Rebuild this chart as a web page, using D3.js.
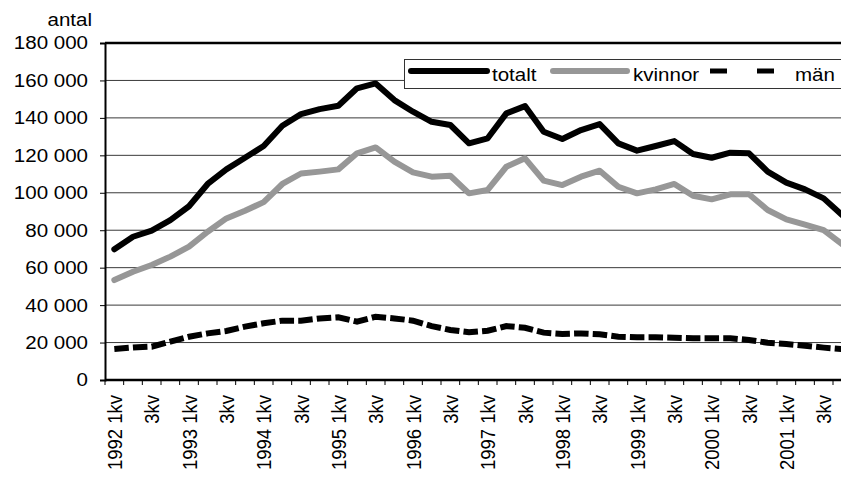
<!DOCTYPE html>
<html>
<head>
<meta charset="utf-8">
<script src="https://cdn.jsdelivr.net/npm/d3@7"></script>
<style>
  html, body { margin: 0; padding: 0; background: #fff; }
  svg { display: block; font-family: "Liberation Sans", Arial, sans-serif; }
</style>
</head>
<body>
<svg id="chart" width="841" height="481"></svg>
<script>
// Quarterly counts 1992–2001
const years = [1992, 1993, 1994, 1995, 1996, 1997, 1998, 1999, 2000, 2001];
const quarters = years.flatMap(yr => [1, 2, 3, 4].map(q => `${yr} ${q}kv`));

const totalt = [69800, 76500, 79800, 85400, 92800, 104700, 112500, 118700, 125000, 135800,
                142000, 144700, 146500, 155800, 158400, 149500, 143300, 137900, 136200, 126400,
                129100, 142400, 146300, 132600, 128700, 133500, 136700, 126400, 122500, 125000,
                127600, 120700, 118700, 121400, 121100, 111300, 105400, 101800, 97000, 88000];
const kvinnor = [53400, 57800, 61400, 65900, 71200, 79200, 86300, 90400, 95000, 104700,
                 110300, 111300, 112500, 121100, 124200, 116600, 110900, 108600, 109100, 99700,
                 101500, 113900, 118400, 106500, 104100, 108600, 111800, 103200, 99700, 101800,
                 104700, 98400, 96500, 99200, 99200, 90800, 85800, 83000, 80000, 72500];
const man = [16600, 17400, 17800, 20500, 23100, 24900, 26200, 28500, 30300, 31700,
             31700, 32900, 33500, 31200, 33800, 32900, 31700, 28800, 26700, 25500,
             26300, 28800, 27900, 25300, 24600, 24900, 24400, 23100, 22800, 22800,
             22600, 22300, 22300, 22300, 21400, 19900, 19200, 18300, 17300, 16500];

const yTicks = [0, 20000, 40000, 60000, 80000, 100000, 120000, 140000, 160000, 180000];
const seriesNames = ["totalt", "kvinnor", "män"];

// Axis-label format: space as thousands separator
const fmt = d3.formatLocale({ decimal: ",", thousands: " ", grouping: [3], currency: ["", " kr"] }).format(",d");
const tickLabel = q => q.endsWith(" 1kv") ? q : q.slice(5);

// Type is set slightly wide
const fontSize = 18.5, widen = 1.11;

const svg = d3.select("#chart");
const plotLeft = 105, plotTop = 43, plotH = 337, step = 18.667;
const plotW = step * quarters.length;

const x = d3.scaleBand().domain(quarters).range([plotLeft, plotLeft + plotW]);
const y = d3.scaleLinear().domain([0, 180000]).range([plotTop + plotH, plotTop]);
const cx = q => x(q) + x.bandwidth() / 2;

// Horizontal gridlines
svg.append("g").selectAll("line").data(yTicks.filter(v => v > 0 && v < 180000)).join("line")
  .attr("x1", plotLeft).attr("x2", plotLeft + plotW)
  .attr("y1", d => y(d)).attr("y2", d => y(d))
  .attr("stroke", "#3a3a3a").attr("stroke-width", 1);

// Top border of the plot area
svg.append("line").attr("x1", plotLeft).attr("x2", plotLeft + plotW)
  .attr("y1", plotTop).attr("y2", plotTop).attr("stroke", "#000").attr("stroke-width", 2.5);

// Y axis
const yAxis = svg.append("g").attr("transform", `translate(${plotLeft},0)`)
  .call(d3.axisLeft(y).tickValues(yTicks).tickFormat(fmt).tickSize(5).tickPadding(12));
yAxis.select(".domain").attr("stroke", "#000").attr("stroke-width", 2);
yAxis.selectAll(".tick line").attr("stroke", "#000").attr("stroke-width", 1);
yAxis.selectAll("text").attr("font-size", fontSize).attr("fill", "#000")
  .attr("font-family", "'Liberation Sans', Arial, sans-serif")
  .attr("x", 0).attr("transform", `translate(-17,0) scale(${widen},1)`);

svg.append("text").attr("text-anchor", "end").attr("font-size", fontSize)
  .attr("transform", `translate(92,26) scale(${widen},1)`).text("antal");

// X axis: tick at every category boundary, labels every second quarter
const xAxisG = svg.append("g").attr("transform", `translate(0,${plotTop + plotH})`);
xAxisG.append("line").attr("x1", plotLeft).attr("x2", plotLeft + plotW)
  .attr("stroke", "#000").attr("stroke-width", 2.5);
xAxisG.selectAll("line.tk").data(d3.range(quarters.length + 1)).join("line").attr("class", "tk")
  .attr("x1", i => plotLeft + i * x.step()).attr("x2", i => plotLeft + i * x.step())
  .attr("y1", 0).attr("y2", 5).attr("stroke", "#000").attr("stroke-width", 1);
xAxisG.selectAll("text").data(quarters.filter((q, i) => i % 2 === 0)).join("text")
  .attr("transform", q => `translate(${cx(q) + 7.5},15) scale(${widen},1) rotate(-90)`)
  .attr("text-anchor", "end").attr("font-size", fontSize).text(tickLabel);

// Series lines
const line = vals => d3.line().x((d, i) => cx(quarters[i])).y(d => y(d))(vals);
svg.append("path").attr("d", line(man)).attr("fill", "none")
  .attr("stroke", "#000").attr("stroke-width", 6).attr("stroke-dasharray", "14.5,4.17");
svg.append("path").attr("d", line(kvinnor)).attr("fill", "none")
  .attr("stroke", "#979797").attr("stroke-width", 6)
  .attr("stroke-linejoin", "round").attr("stroke-linecap", "round");
svg.append("path").attr("d", line(totalt)).attr("fill", "none")
  .attr("stroke", "#000").attr("stroke-width", 6)
  .attr("stroke-linejoin", "round").attr("stroke-linecap", "round");

// Legend
const lg = svg.append("g");
lg.append("rect").attr("x", 404.5).attr("y", 59.5).attr("width", 460).attr("height", 29)
  .attr("fill", "#fff").attr("stroke", "#333").attr("stroke-width", 1);
const ly = 71, lt = 81;
const legendText = (xPos, s) => lg.append("text").attr("font-size", fontSize)
  .attr("transform", `translate(${xPos},${lt}) scale(${widen},1)`).text(s);
lg.append("line").attr("x1", 411).attr("x2", 487).attr("y1", ly).attr("y2", ly)
  .attr("stroke", "#000").attr("stroke-width", 6).attr("stroke-linecap", "round");
legendText(492, seriesNames[0]);
lg.append("line").attr("x1", 553).attr("x2", 627).attr("y1", ly).attr("y2", ly)
  .attr("stroke", "#979797").attr("stroke-width", 6).attr("stroke-linecap", "round");
legendText(633, seriesNames[1]);
lg.append("line").attr("x1", 710).attr("x2", 774).attr("y1", ly).attr("y2", ly)
  .attr("stroke", "#000").attr("stroke-width", 5).attr("stroke-dasharray", "17,30");
legendText(795, seriesNames[2]);
</script>
</body>
</html>
